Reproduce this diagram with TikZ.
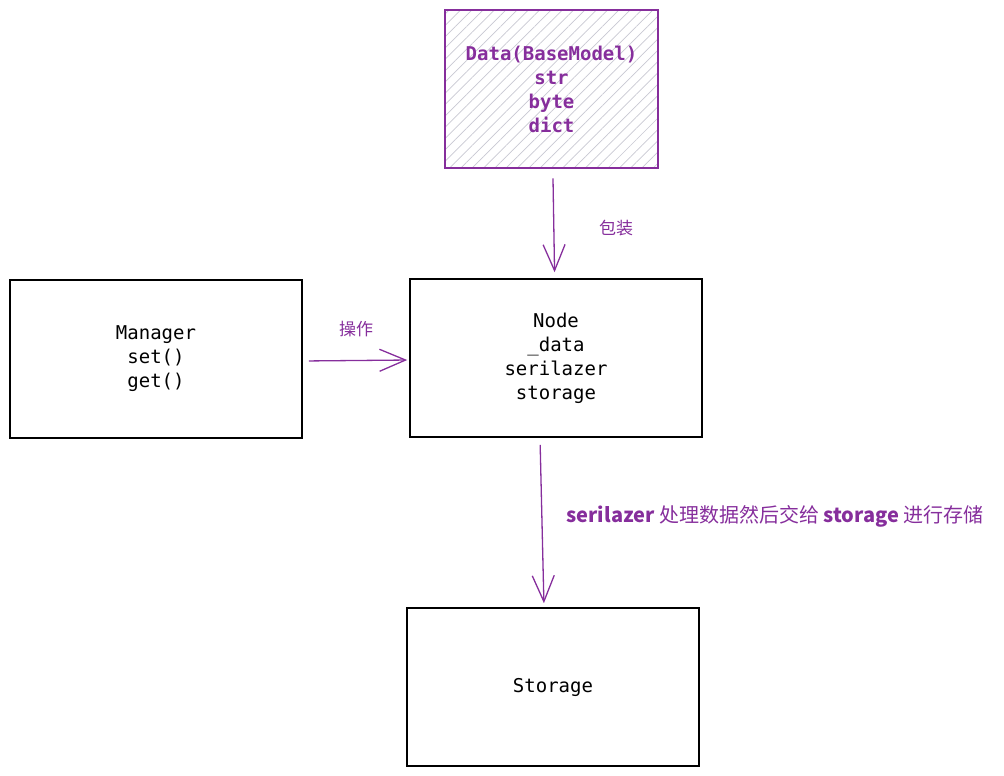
\documentclass[tikz,border=0pt]{standalone}
\usepackage{fontspec}
\setmonofont{DejaVu Sans Mono}
\newfontfamily\cjk{Noto Sans CJK SC}
\usetikzlibrary{arrows.meta,patterns.meta}
\definecolor{violet1}{RGB}{134,46,156}
\definecolor{hachure}{RGB}{200,200,210}

\begin{document}
\begin{tikzpicture}[x=1pt, y=-1pt]

  % Styles
  \tikzstyle{boite} = [draw, line width=1.6pt, minimum width=292pt, minimum height=158pt, align=center, font=\ttfamily\fontsize{19}{24}\selectfont]
  \tikzstyle{donnee} = [boite, draw=violet1, text=violet1, minimum width=213pt, font=\ttfamily\bfseries\fontsize{19}{24}\selectfont, pattern={Lines[angle=45, distance=8pt, line width=0.7pt]}, pattern color=hachure]
  \tikzstyle{fleche} = [-{Straight Barb[length=26pt, width=22pt]}, violet1, line width=1.3pt]
  \tikzstyle{etiquette} = [text=violet1, font=\cjk\fontsize{17}{20}\selectfont]

  % Zone du schéma
  \useasboundingbox (0,0) rectangle (1004,776) ;

  % Boîtes
  \draw (551.5,89) node[donnee] (data) {Data(BaseModel)\\str\\byte\\dict} ;
  \draw (156,359) node[boite] (manager) {Manager\\set()\\get()} ;
  \draw (556,358) node[boite] (node) {Node\\\_data\\serilazer\\storage} ;
  \draw (553,687) node[boite] (storage) {Storage} ;

  % Flèches
  \draw[fleche, shorten <=10pt, shorten >=6pt] (data) -- (node) ;
  \draw[fleche, shorten <=6pt, shorten >=2pt] ([yshift=-2pt]manager.east) -- ([yshift=-2pt]node.west) ;
  \draw[fleche, shorten <=7pt, shorten >=4pt] ([xshift=-16pt]node.south) -- ([xshift=-9pt]storage.north) ;

  % Etiquettes
  \draw (616,228) node[etiquette] (emballage) {包装} ;
  \draw (356,329) node[etiquette] (operation) {操作} ;
  \draw (563,516) node[etiquette, anchor=west, font=\cjk\fontsize{20}{24}\selectfont] (traitement) {\textbf{serilazer} 处理数据然后交给 \textbf{storage} 进行存储} ;

\end{tikzpicture}
\end{document}
